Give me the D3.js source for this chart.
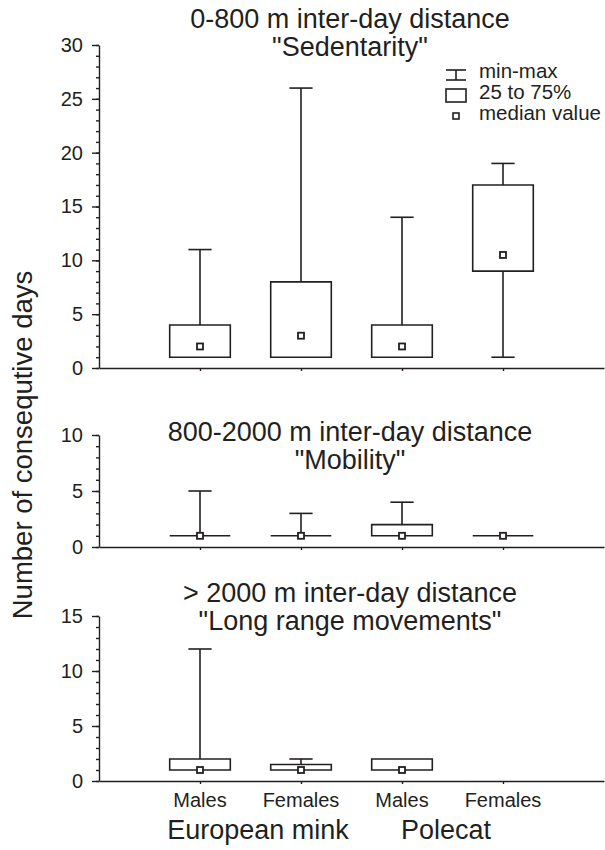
<!DOCTYPE html>
<meta charset="utf-8">
<style>
body { margin: 0; background: #fff; }
svg text { font-family: "Liberation Sans", Arial, sans-serif; fill: #231f20; }
svg .axis path, svg .axis line { stroke: #231f20; stroke-width: 1.4px; }
svg .axis text { font-size: 20px; }
svg .box line, svg .box rect, svg .box path { stroke: #231f20; stroke-width: 1.6px; }
</style>
<body>
<svg width="605" height="850"></svg>
<script src="https://cdn.jsdelivr.net/npm/d3@7"></script>
<script>

var categories = ["Males", "Females", "Males", "Females"];
var species = ["European mink", "Polecat"];

var titles = [
  ["0-800 m inter-day distance", "\"Sedentarity\""],
  ["800-2000 m inter-day distance", "\"Mobility\""],
  ["> 2000 m inter-day distance", "\"Long range movements\""]
];
var yMax = [30, 10, 15];
var yTicks = [[0, 5, 10, 15, 20, 25, 30], [0, 5, 10], [0, 5, 10, 15]];

// [min, 25%, median, 75%, max] for each category
var sedentarity = [[1, 1, 2, 4, 11], [1, 1, 3, 8, 26], [1, 1, 2, 4, 14], [1, 9, 10.5, 17, 19]];
var mobility    = [[1, 1, 1, 1, 5],  [1, 1, 1, 1, 3],  [1, 1, 1, 2, 4],  [1, 1, 1, 1, 1]];
var longRange   = [[1, 1, 1, 2, 12], [1, 1, 1, 1.5, 2], [1, 1, 1, 2, 2], null];

var legendItems = ["min-max", "25 to 75%", "median value"];

var panels = [sedentarity, mobility, longRange];
var panelRange = [[368, 45], [547, 435], [781, 616]];

var svg = d3.select("svg");
var x = d3.scaleLinear().domain([0, 5]).range([99, 604]);
var boxW = x(0.6) - x(0), capW = x(0.23) - x(0);

panels.forEach(function(stats, p){
  var y = d3.scaleLinear().domain([0, yMax[p]]).range(panelRange[p]);
  var g = svg.append("g");

  // minor ticks
  g.append("g").attr("class", "axis").attr("transform", "translate(" + x(0) + ",0)")
    .call(d3.axisLeft(y).tickValues(d3.range(0, yMax[p] + 1)).tickSize(3).tickFormat(""))
    .select(".domain").remove();
  g.append("g").attr("class", "axis").attr("transform", "translate(" + x(0) + ",0)")
    .call(d3.axisLeft(y).tickValues(yTicks[p]).tickSize(7).tickSizeOuter(0).tickPadding(9));
  g.append("g").attr("class", "axis").attr("transform", "translate(0," + y(0) + ")")
    .call(d3.axisBottom(x).tickValues([1, 2, 3, 4]).tickSize(3).tickSizeOuter(0).tickFormat(""));

  var box = g.selectAll(".box").data(stats.map(function(d, i){ return {i: i, v: d}; })
      .filter(function(d){ return d.v; }))
    .enter().append("g").attr("class", "box")
    .attr("transform", function(d){ return "translate(" + x(d.i + 1) + ",0)"; });

  box.filter(function(d){ return d.v[4] > d.v[3]; }).append("line")
    .attr("y1", function(d){ return y(d.v[3]); }).attr("y2", function(d){ return y(d.v[4]); });
  box.filter(function(d){ return d.v[0] < d.v[1]; }).append("line")
    .attr("y1", function(d){ return y(d.v[1]); }).attr("y2", function(d){ return y(d.v[0]); });
  box.filter(function(d){ return d.v[4] > d.v[3]; }).append("line")
    .attr("x1", -capW / 2).attr("x2", capW / 2)
    .attr("y1", function(d){ return y(d.v[4]); }).attr("y2", function(d){ return y(d.v[4]); });
  box.filter(function(d){ return d.v[0] < d.v[1]; }).append("line")
    .attr("x1", -capW / 2).attr("x2", capW / 2)
    .attr("y1", function(d){ return y(d.v[0]); }).attr("y2", function(d){ return y(d.v[0]); });
  box.append("path")
    .attr("d", function(d){
      return "M" + (-boxW / 2) + "," + y(d.v[3]) + "H" + (boxW / 2) +
        "V" + y(d.v[1]) + "H" + (-boxW / 2) + "Z";
    })
    .attr("fill", "#fff");
  box.append("rect")
    .attr("x", -3).attr("width", 6).attr("y", function(d){ return y(d.v[2]) - 3; }).attr("height", 6)
    .attr("fill", "#fff").style("stroke-width", "1.8px");

  var ty = [[28, 56], [441, 469], [602, 630]][p];
  titles[p].forEach(function(t, k){
    svg.append("text").attr("x", 350).attr("y", ty[k])
      .attr("text-anchor", "middle").style("font-size", "27px").text(t);
  });
});

// category labels
svg.selectAll(".cat").data(categories).enter().append("text")
  .attr("x", function(d, i){ return x(i + 1); }).attr("y", 807)
  .attr("text-anchor", "middle").style("font-size", "20px").text(function(d){ return d; });
svg.selectAll(".sp").data(species).enter().append("text")
  .attr("x", function(d, i){ return [258, 446][i]; }).attr("y", 839)
  .attr("text-anchor", "middle").style("font-size", "27px").text(function(d){ return d; });

svg.append("text").attr("transform", "translate(32,445) rotate(-90)")
  .attr("text-anchor", "middle").style("font-size", "27.5px").text("Number of consequtive days");

// legend
var lg = svg.append("g").attr("class", "box");
lg.append("line").attr("x1", 446).attr("x2", 466).attr("y1", 70).attr("y2", 70);
lg.append("line").attr("x1", 456).attr("x2", 456).attr("y1", 70).attr("y2", 80);
lg.append("line").attr("x1", 446).attr("x2", 466).attr("y1", 80).attr("y2", 80);
lg.append("rect").attr("x", 446).attr("y", 89).attr("width", 20).attr("height", 13).attr("fill", "#fff");
lg.append("rect").attr("x", 453).attr("y", 113).attr("width", 6).attr("height", 6).attr("fill", "#fff");
legendItems.forEach(function(t, k){
  svg.append("text").attr("x", 479).attr("y", [78, 99, 120][k]).style("font-size", "20.5px").text(t);
});

</script>
